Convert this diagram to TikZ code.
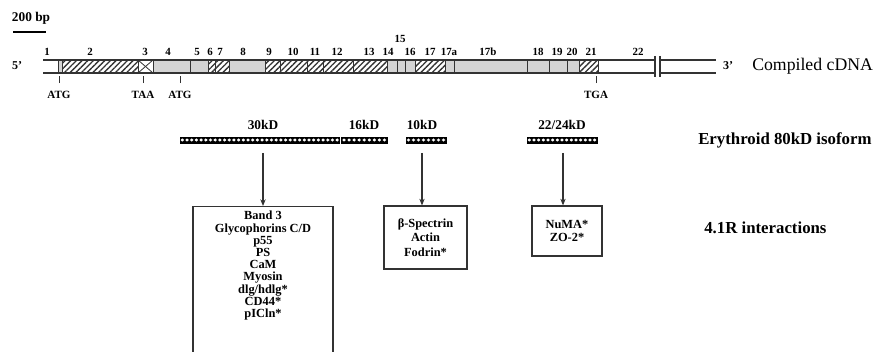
\documentclass[tikz,border=0pt]{standalone}
\usepackage{fontspec}
\setmainfont{Liberation Serif}
\usetikzlibrary{arrows.meta,patterns.meta}

\definecolor{exgrey}{gray}{0.83}
\definecolor{ink}{gray}{0.2}

\begin{document}
\begin{tikzpicture}[
  x=0.75pt, y=-0.75pt,
  >={Stealth[length=5pt,width=4pt]},
  every node/.style={inner sep=0pt},
  exnum/.style={font=\bfseries\fontsize{8.2}{9.6}\selectfont},
  codon/.style={font=\bfseries\fontsize{8.3}{10}\selectfont},
  endlbl/.style={font=\bfseries\fontsize{9}{11}\selectfont},
  tag/.style={anchor=west,font=\bfseries\fontsize{12.6}{15}\selectfont},
  kd/.style={font=\bfseries\fontsize{10}{12}\selectfont},
  exg/.style={fill=exgrey,draw=ink,line width=0.6pt},
  exh/.style={pattern={Lines[angle=45,distance=3pt,line width=1pt]},pattern color=ink,draw=ink,line width=0.6pt},
  exx/.style={draw=ink,line width=0.6pt},
  pbar/.style={draw=black,fill=black,minimum height=4.8pt,line width=0.4pt},
  partbox/.style={draw=ink,line width=0.9pt},
  parttext/.style={align=center,font=\bfseries\fontsize{9.3}{#1}\selectfont},
  arr/.style={->,line width=0.8pt,draw=ink}
]
\useasboundingbox (0,0) rectangle (875,352);

% scale bar
\node[font=\bfseries\fontsize{10}{12}\selectfont] (scale) at (31,18) {200 bp};
\draw[line width=1pt] (13,32) -- (46,32);

% compiled cDNA
\foreach \a/\b/\s in {58/62/exg, 62/138/exh, 138/153/exx, 153/190/exg, 190/208/exg,
  208/215/exh, 215/229/exh, 229/265/exg, 265/280/exh, 280/307/exh, 307/323/exh,
  323/353/exh, 353/387/exh, 387/397/exg, 397/405/exg, 405/415/exg, 415/445/exh,
  445/454/exg, 454/527/exg, 527/549/exg, 549/567/exg, 567/579/exg, 579/598/exh}
  \draw[\s] (\a,60) rectangle (\b,73);
\draw[exx] (138,60) -- (153,73) (138,73) -- (153,60);
\draw[ink,line width=0.9pt] (43,60) -- (716,60) (43,73) -- (716,73);
\fill[white] (655.6,58) rectangle (659.4,75);
\draw[ink,line width=0.8pt] (655,56) -- (655,77) (660,56) -- (660,77);

\foreach \x/\t in {47/1, 90/2, 145/3, 168/4, 197/5, 210/6, 220/7, 243/8, 269/9,
  293/10, 315/11, 337/12, 369/13, 388/14, 410/16, 430/17, 449/17a, 488/17b,
  538/18, 557/19, 572/20, 591/21, 638/22}
  \node[exnum] (e\t) at (\x,52) {\t};
\node[exnum] (e15) at (400,39) {15};

\node[endlbl] (fivep) at (17,66) {5'};
\node[endlbl] (threep) at (728,66) {3'};
\node[tag,font=\fontsize{13.3}{16}\selectfont] (cdna) at (752,66) {Compiled cDNA};

\node[codon] (atgA) at (59,95) {ATG};
\node[codon] (taa) at (143,95) {TAA};
\node[codon] (atgB) at (180,95) {ATG};
\node[codon] (tga) at (596,95) {TGA};
\foreach \n in {atgA,taa,atgB,tga}
  \draw[ink,line width=0.6pt] (\n.north) ++(0,-8) -- ++(0,-7);

% 80kD isoform
\foreach \a/\b/\n in {180/339.5/pA, 341.5/387/pB, 406/446/pC, 527/597/pD}{
  \node[pbar,minimum width={(\b-\a)*0.75pt}] (\n) at ({(\a+\b)/2},140) {};
  \pgfmathtruncatemacro\cnt{(\b-\a)/4.6}
  \foreach \i in {1,...,\cnt}
    \fill[white] ({\a+(\i-0.5)*(\b-\a)/\cnt},140) ellipse (1.35pt and 1.2pt);
}
\node[kd] (kA) at (263,125) {30kD};
\node[kd] (kB) at (364,125) {16kD};
\node[kd] (kC) at (422,125) {10kD};
\node[kd] (kD) at (562,125) {22/24kD};
\node[tag] (eryth) at (698,140) {Erythroid 80kD isoform};

% interactions
\node[partbox,minimum width=105pt,minimum height=113.25pt,anchor=north] (boxA) at (263,206) {};
\node[parttext=9.15,anchor=north] (listA) at ([yshift=-3.8pt]boxA.north) {Band 3\\Glycophorins C/D\\p55\\PS\\CaM\\Myosin\\dlg/hdlg*\\CD44*\\pICln*};
\node[partbox,parttext=10.65,minimum width=62.25pt,minimum height=47.25pt] (boxB) at (425.5,237.5) {β-Spectrin\\Actin\\Fodrin*};
\node[partbox,parttext=10,minimum width=52.5pt,minimum height=37.5pt] (boxC) at (567,231) {NuMA*\\ZO-2*};
\node[tag] (inter) at (704,228) {4.1R interactions};

\coordinate (sA) at (263,153);
\coordinate (sC) at (422,153);
\coordinate (sD) at (563,153);
\draw[arr] (sA) -- (boxA.north-|sA);
\draw[arr] (sC) -- (boxB.north-|sC);
\draw[arr] (sD) -- (boxC.north-|sD);
\end{tikzpicture}
\end{document}
